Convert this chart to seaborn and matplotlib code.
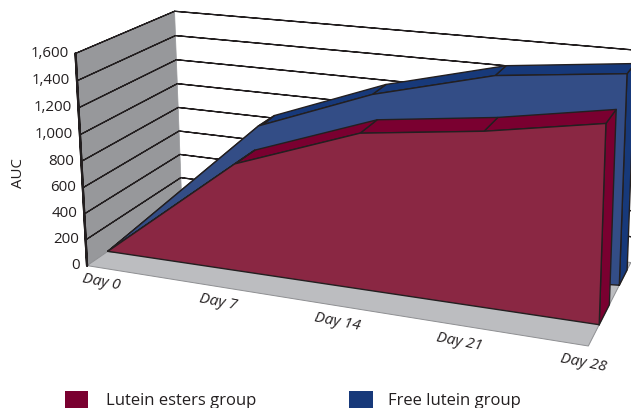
"""AUC by day, 3D area chart, lutein esters vs free lutein"""

import matplotlib
matplotlib.use("Agg")
import matplotlib.pyplot as plt
import numpy as np
import pandas as pd
import seaborn as sns

days = [0, 7, 14, 21, 28]
day_labels = ["Day 0", "Day 7", "Day 14", "Day 21", "Day 28"]
esters_auc = [0, 800, 1135, 1245, 1385]
free_auc = [0, 870, 1210, 1440, 1540]
auc_ticks = [0, 200, 400, 600, 800, 1000, 1200, 1400, 1600]
auc_tick_labels = ["0", "200", "400", "600", "800", "1,000", "1,200", "1,400", "1,600"]

ESTER_FRONT, ESTER_TOP = "#8a2743", "#7a0030"
FREE_FRONT, FREE_TOP = "#334d86", "#17397a"
WALL, FLOOR, INK = "#97989b", "#bcbdc0", "#231f20"

# box corners (day, depth, auc) -> where they sit on the page
box_world = np.array([[0, 0, 0], [0, 0, 1], [0, 1, 1], [0, 1, 0],
                      [1, 0, 0], [1, 0, 1], [1, 1, 1], [1, 1, 0]], dtype=float)
box_page = np.array([[86, 264], [76, 48], [175, 15], [182, 203],
                     [589, 344], [596, 115], [638, 43], [631, 263]], dtype=float)
start_depth = 0.2  # all ribbons pinch together at day 0


def fit_camera(world, page):
    rows = []
    for (x, z, y), (u, v) in zip(world, page):
        rows.append([x, z, y, 1, 0, 0, 0, 0, -u * x, -u * z, -u * y, -u])
        rows.append([0, 0, 0, 0, x, z, y, 1, -v * x, -v * z, -v * y, -v])
    return np.linalg.svd(np.array(rows))[2][-1].reshape(3, 4)


camera = fit_camera(box_world, box_page)
layer = [10]


def project(day, depth, auc, warp=0.0):
    # warp: the original spaces its days evenly in spite of the perspective
    t = day / 28
    t = (1 + warp) * t / (1 + warp * t)
    p = camera @ np.array([t, depth, auc / 1600, 1.0])
    return p[0] / p[2], p[1] / p[2]


def draw_face(ax, corners, color, edge=INK, lw=1.0, warp=0.0):
    layer[0] += 1
    pts = pd.DataFrame([project(*c, warp=warp) for c in corners], columns=["px", "py"])
    ax.fill(pts.px, pts.py, color=color, lw=0, zorder=layer[0])
    closed = pd.concat([pts, pts.iloc[:1]], ignore_index=True)
    sns.lineplot(data=closed, x="px", y="py", estimator=None, sort=False, color=edge, lw=lw, ax=ax,
                 zorder=layer[0])


def draw_ribbon(ax, values, near, far, front, top, warp):
    # right end, then the top strips from right to left, then the front
    draw_face(ax, [(28, near, 0), (28, far, 0), (28, far, values[-1]), (28, near, values[-1])], top, warp=warp)
    near_at = [start_depth if d == 0 else near for d in days]
    far_at = [start_depth if d == 0 else far for d in days]
    for i in range(len(days) - 2, -1, -1):
        draw_face(ax, [(days[i], near_at[i], values[i]), (days[i + 1], near_at[i + 1], values[i + 1]),
                       (days[i + 1], far_at[i + 1], values[i + 1]), (days[i], far_at[i], values[i])], top, warp=warp)
    outline = [(28, near, 0)] + [(d, n, v) for d, n, v in zip(days, near_at, values)]
    draw_face(ax, outline, front, warp=warp)


sns.set_theme(style="white")
plt.rcParams["font.family"] = ["Open Sans", "DejaVu Sans"]

fig = plt.figure(figsize=(6.31, 4.08), dpi=100)
ax = fig.add_axes([0, 0, 1, 1])

# back grid and side wall
for tick in auc_ticks[1:]:
    draw_face(ax, [(0, 1, tick), (28, 1, tick)], "none", lw=0.9)
draw_face(ax, [(0, 0, 0), (0, 1, 0), (0, 1, 1600), (0, 0, 1600)], WALL, edge=WALL, lw=0.5)
for tick in auc_ticks[1:]:
    draw_face(ax, [(0, 0, tick), (0, 1, tick)], "none", lw=0.9)
draw_face(ax, [(0, 0, 0), (28, 0, 0), (28, 1, 0), (0, 1, 0)], FLOOR, edge="#8e8f92", lw=0.7)
draw_face(ax, [(0, 0, 0), (0, 0, 1600)], "none", lw=1.6)

draw_ribbon(ax, free_auc, 0.7, 0.9, FREE_FRONT, FREE_TOP, warp=0.0)
draw_ribbon(ax, esters_auc, 0.23, 0.46, ESTER_FRONT, ESTER_TOP, warp=0.2)

for tick, label in zip(auc_ticks, auc_tick_labels):
    x, y = project(0, 0, tick)
    ax.annotate(label, (x, y), xytext=(-7, 0), textcoords="offset pixels", ha="right", va="center",
                fontsize=10.8, color=INK, zorder=100)

for day, label in zip(days, day_labels):
    x, y = project(day, 0, 0, warp=0.1)
    ax.annotate(label, (x, y), xytext=(14 - 19 * day / 28, -17), textcoords="offset pixels",
                ha="center", va="center", rotation=-11, style="italic", fontsize=11, color=INK, zorder=100)

ax.text(18, 173, "AUC", rotation=90, ha="center", va="center", fontsize=10.8, color=INK, zorder=100)

# legend, cut by the page edge like the original
ax.fill([65, 88, 88, 65], [391, 391, 410, 410], color=ESTER_TOP, lw=0)
ax.fill([349, 373, 373, 349], [391, 391, 410, 410], color=FREE_TOP, lw=0)
ax.text(106, 401, "Lutein esters group", va="center", fontsize=12, color=INK)
ax.text(388, 401, "Free lutein group", va="center", fontsize=12, color=INK)

ax.set_xlim(0, 631)
ax.set_ylim(408, 0)
ax.axis("off")
fig.savefig("out.png", dpi=100)
